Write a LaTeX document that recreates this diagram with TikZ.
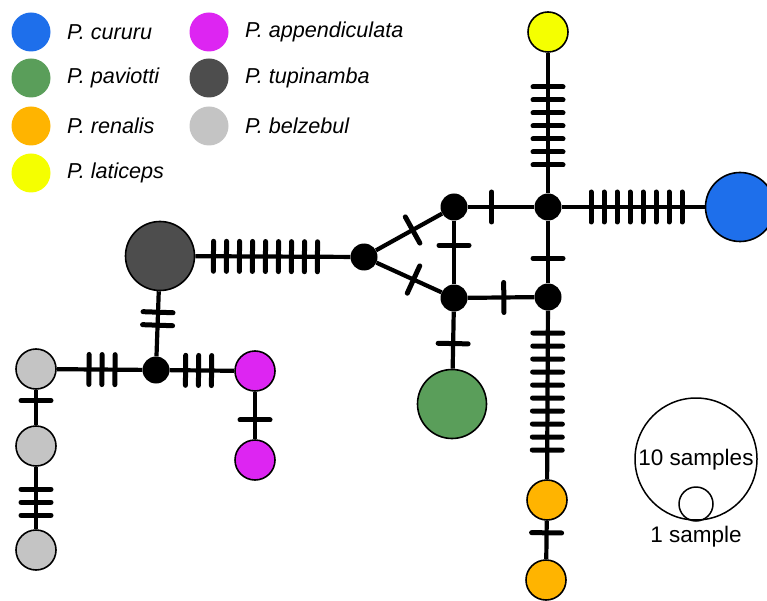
\documentclass[tikz,border=0pt]{standalone}
\usepackage{fontspec}
\setmainfont{Liberation Sans}
\usetikzlibrary{calc,backgrounds}
\definecolor{cblue}{HTML}{1E6FEB}
\definecolor{cgreen}{HTML}{5A9E5A}
\definecolor{corange}{HTML}{FFB400}
\definecolor{cyellow}{HTML}{F5FF00}
\definecolor{cmagenta}{HTML}{DD25F2}
\definecolor{cdark}{HTML}{4D4D4D}
\definecolor{clight}{HTML}{C4C4C4}
\tikzset{
  hap/.style={circle, draw=black, line width=1.6pt, minimum size=40pt, inner sep=0pt},
  bighap/.style={hap, minimum size=69pt},
  med/.style={circle, fill=black, minimum size=27pt, inner sep=0pt},
  edge/.style={line width=4.2pt},
  tickline/.style={line width=5pt, line cap=round},
  leg/.style={circle, minimum size=39pt, inner sep=0pt},
  legtxt/.style={anchor=west, font=\fontsize{21.6}{24}\selectfont\itshape, inner sep=0pt},
  scaletxt/.style={font=\fontsize{22.5}{25}\selectfont, inner sep=0pt},
}
\newcommand\tks[4]{%
  \foreach \i in {1,...,#4}{%
    \pgfmathsetmacro\off{(\i-(#4+1)/2)*13}%
    \coordinate (tc) at ($(#1.center)!#3!(#2.center)$);%
    \coordinate (tp) at ($(tc)!\off pt!(#2.center)$);%
    \draw[tickline] ($(tp)!15pt!90:(#2.center)$) -- ($(tp)!15pt!-90:(#2.center)$);%
  }%
}
\begin{document}
\begin{tikzpicture}[x=1pt,y=-1pt]
\useasboundingbox (0,0) rectangle (767,601);
% legend
\node[leg, fill=cblue] (l1) at (31,32) {};
\node[leg, fill=cgreen] (l2) at (31,78) {};
\node[leg, fill=corange] (l3) at (31,126) {};
\node[leg, fill=cyellow] (l4) at (31,173) {};
\node[leg, fill=cmagenta] (l5) at (209,32) {};
\node[leg, fill=cdark] (l6) at (209,78) {};
\node[leg, fill=clight] (l7) at (209,126) {};
\node[legtxt] (t1) at (67,32) {P. cururu};
\node[legtxt] (t2) at (67,78) {P. paviotti};
\node[legtxt] (t3) at (67,126) {P. renalis};
\node[legtxt] (t4) at (67,173) {P. laticeps};
\node[legtxt] (t5) at (245,32) {P. appendiculata};
\node[legtxt] (t6) at (245,78) {P. tupinamba};
\node[legtxt] (t7) at (245,126) {P. belzebul};
% network nodes
\node[hap, fill=cyellow] (yel) at (548,32) {};
\node[med] (A) at (548,207) {};
\node[bighap, fill=cblue] (blue) at (740,207) {};
\node[med] (B) at (454,207) {};
\node[med] (C) at (454,298) {};
\node[med] (D) at (548,297) {};
\node[med] (E) at (364,257) {};
\node[bighap, fill=cdark] (tup) at (160,256) {};
\node[med] (F) at (156,370) {};
\node[hap, fill=clight] (g1) at (36,369) {};
\node[hap, fill=clight] (g2) at (36,446) {};
\node[hap, fill=clight] (g3) at (36,550) {};
\node[hap, fill=cmagenta] (m1) at (255,371) {};
\node[hap, fill=cmagenta] (m2) at (255,460) {};
\node[bighap, fill=cgreen] (green) at (452,404) {};
\node[hap, fill=corange] (r1) at (547,500) {};
\node[hap, fill=corange] (r2) at (546,580) {};
% edges
\begin{scope}[on background layer]
\draw[edge] (yel) -- (A);
\draw[edge] (A) -- (blue);
\draw[edge] (tup) -- (E);
\draw[edge] (E) -- (B);
\draw[edge] (E) -- (C);
\draw[edge] (B) -- (C);
\draw[edge] (B) -- (A);
\draw[edge] (A) -- (D);
\draw[edge] (C) -- (D);
\draw[edge] (D) -- (r1);
\draw[edge] (r1) -- (r2);
\draw[edge] (C) -- (green);
\draw[edge] (tup) -- (F);
\draw[edge] (g1) -- (F);
\draw[edge] (F) -- (m1);
\draw[edge] (g1) -- (g2);
\draw[edge] (g2) -- (g3);
\draw[edge] (m1) -- (m2);
\end{scope}
% mutation ticks
\tks{yel}{A}{0.537}{7}
\tks{A}{blue}{0.461}{8}
\tks{tup}{E}{0.517}{9}
\tks{E}{B}{0.54}{1}
\tks{E}{C}{0.55}{1}
\tks{B}{C}{0.42}{1}
\tks{B}{A}{0.40}{1}
\tks{A}{D}{0.57}{1}
\tks{C}{D}{0.53}{1}
\tks{D}{r1}{0.466}{10}
\tks{r1}{r2}{0.41}{1}
\tks{C}{green}{0.43}{1}
\tks{tup}{F}{0.55}{2}
\tks{g1}{F}{0.55}{3}
\tks{F}{m1}{0.43}{3}
\tks{g1}{g2}{0.41}{1}
\tks{g2}{g3}{0.54}{3}
\tks{m1}{m2}{0.55}{1}
% size scale
\node[circle, draw=black, line width=1.5pt, minimum size=122pt, inner sep=0pt] (s10) at (696,459) {};
\node[circle, draw=black, line width=1.5pt, minimum size=34pt, inner sep=0pt] (s1) at (696,504) {};
\node[scaletxt] (s10t) at (696,460) {10 samples};
\node[scaletxt] (s1t) at (696,537) {1 sample};
\end{tikzpicture}
\end{document}
